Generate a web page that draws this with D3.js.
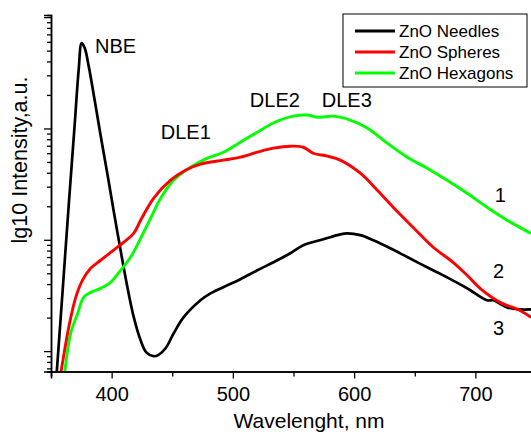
<!DOCTYPE html>
<html>
<head>
<meta charset="utf-8">
<script src="https://cdn.jsdelivr.net/npm/d3@7"></script>
<style>
  body { margin: 0; background: #fff; }
  svg { display: block; font-family: "Liberation Sans", Arial, sans-serif; }
</style>
</head>
<body>
<svg width="531" height="435"></svg>
<script>
// wavelength (nm) and intensity (a.u., log axis)
const needlesNm = [354.7, 359.6, 364.6, 369.5, 372.8, 375.3, 377.8, 381.1, 386, 390.9, 396.7, 401.6, 407.4, 412.4, 418.1, 423.9, 428.8, 434.6, 438.7, 444.5, 451.1, 459.3, 473.3, 481.5, 495.5, 506.2, 520.2, 533.4, 547.4, 558.1, 574.6, 588.6, 594.3, 605.1, 615.8, 629.8, 643.8, 660.2, 676.7, 693.2, 709.6, 714.6, 726.1, 736.8, 745.9];
const needlesI = [0.64, 3.5, 20.4, 107, 334, 585, 527, 363, 180, 87, 38, 18.4, 8.05, 4.06, 2.05, 1.25, 0.97, 0.9, 0.925, 1.06, 1.44, 2.01, 2.86, 3.3, 3.9, 4.42, 5.32, 6.28, 7.57, 8.93, 10.1, 11.2, 11.4, 11.0, 9.9, 8.4, 7.0, 5.66, 4.6, 3.67, 2.86, 2.86, 2.47, 2.37, 2.37];

const spheresNm = [358, 359.4, 364.6, 370.4, 375.9, 382.7, 390.9, 404.7, 418.1, 423.9, 434.6, 448.6, 460.9, 473.3, 492.2, 506.2, 520.2, 533.4, 547.4, 558.1, 566.3, 577.9, 588.6, 605.1, 619.1, 632.2, 648.7, 665.2, 681.6, 693.2, 703.9, 720.3, 736.8, 745.9];
const spheresI = [0.62, 0.775, 1.63, 3.04, 4.32, 5.54, 6.55, 8.57, 11.4, 15.0, 23.6, 34.3, 42.2, 47.8, 51.9, 55.2, 61.2, 66.5, 69.3, 67.8, 59.9, 56.4, 51.9, 39.6, 27.9, 19.6, 12.9, 8.57, 6.28, 4.8, 3.66, 2.74, 2.32, 2.01];

const hexagonsNm = [361.3, 366.2, 372, 376.9, 382.7, 390.9, 399.2, 407.4, 415.6, 423.9, 432.1, 440.4, 451.1, 465, 479.1, 492.2, 506.2, 520.2, 533.4, 549.9, 561.4, 569.6, 582.8, 596.8, 610.8, 627.3, 643.8, 660.2, 676.7, 693.2, 709.6, 726.1, 745.9];
const hexagonsI = [0.64, 1.44, 2.18, 3.04, 3.37, 3.66, 4.15, 5.32, 6.96, 10.3, 15.6, 23.6, 34.3, 44.9, 54.1, 61.2, 75.3, 92.6, 112, 129, 132, 126, 129, 119, 101, 73.8, 55.2, 44.0, 34.3, 26.2, 19.6, 15.0, 11.4];

const seriesNames = ['ZnO Needles', 'ZnO Spheres', 'ZnO Hexagons'];
const seriesColors = ['#000000', '#ff0000', '#00ff00'];

const xTicks = [400, 500, 600, 700];
const xMinorTicks = [350, 450, 550, 650];

// peak labels: [text, wavelength, intensity]
const peakLabels = [['NBE', 386.3, 475], ['DLE1', 440.5, 80], ['DLE2', 514, 156], ['DLE3', 573.3, 156]];
// curve numbers: [text, wavelength, intensity]
const curveNumbers = [['1', 716, 22], ['2', 714.5, 4.54], ['3', 714.5, 1.4]];

const svg = d3.select('svg');

const margin = { top: 15, left: 51, bottom: 371.5 };

const xScale = d3.scaleLinear()
    .domain([350, 750])
    .range([margin.left, 536]);

const yScale = d3.scaleLog()
    .domain([0.656, 1045])
    .range([margin.bottom, margin.top]);

svg.append('clipPath').attr('id', 'plot-clip')
  .append('rect')
    .attr('x', margin.left)
    .attr('y', margin.top)
    .attr('width', 531 - margin.left)
    .attr('height', margin.bottom - margin.top);

let line = d3.line()
    .x(d => xScale(d[0]))
    .y(d => yScale(d[1]))
    .curve(d3.curveCatmullRom.alpha(0.5));

let drawSeries = (nm, vals, color, width) => {
  svg.append('path')
      .datum(d3.zip(nm, vals))
      .attr('clip-path', 'url(#plot-clip)')
      .attr('fill', 'none')
      .attr('stroke', color)
      .attr('stroke-width', width)
      .attr('stroke-linejoin', 'round')
      .attr('d', line);
}

drawSeries(needlesNm, needlesI, seriesColors[0], 2.7);
drawSeries(hexagonsNm, hexagonsI, seriesColors[2], 2.9);
drawSeries(spheresNm, spheresI, seriesColors[1], 2.9);

// axes
let xAxis = d3.axisBottom(xScale)
    .tickValues(xTicks)
    .tickSize(7)
    .tickPadding(8)
    .tickFormat(d3.format('d'));

let xMinor = d3.axisBottom(xScale)
    .tickValues(xMinorTicks)
    .tickSize(5)
    .tickFormat('');

let gx = svg.append('g')
    .attr('transform', 'translate(0,' + margin.bottom + ')')
    .call(xAxis);
svg.append('g')
    .attr('transform', 'translate(0,' + margin.bottom + ')')
    .call(xMinor);

gx.selectAll('text')
    .attr('font-size', 20)
    .attr('font-family', '"Liberation Sans", Arial, sans-serif')
    .attr('fill', '#000');

let yAll = yScale.ticks();
let yMajor = yAll.filter(v => Math.abs(Math.log10(v) - Math.round(Math.log10(v))) < 1e-6);
let yMinor = yAll.filter(v => yMajor.indexOf(v) < 0);

let yAxis = d3.axisLeft(yScale).tickValues(yMajor).tickSize(7).tickFormat('');
let yAxisMinor = d3.axisLeft(yScale).tickValues(yMinor).tickSize(4).tickFormat('');

svg.append('g')
    .attr('transform', 'translate(' + margin.left + ',0)')
    .call(yAxis);
svg.append('g')
    .attr('transform', 'translate(' + margin.left + ',0)')
    .call(yAxisMinor);

svg.selectAll('.domain').attr('stroke-width', 1.5);
svg.selectAll('.tick line').attr('stroke-width', 1.3);

// axis titles
svg.append('text')
    .attr('x', 309)
    .attr('y', 428)
    .attr('text-anchor', 'middle')
    .attr('font-size', 21)
    .text('Wavelenght, nm');

svg.append('text')
    .attr('transform', 'translate(27,160) rotate(-90)')
    .attr('text-anchor', 'middle')
    .attr('font-size', 21.5)
    .text('lg10 Intensity,a.u.');

// peak labels and curve numbers
svg.selectAll('.peak').data(peakLabels)
  .enter()
  .append('text')
    .attr('class', 'peak')
    .attr('x', d => xScale(d[1]))
    .attr('y', d => yScale(d[2]))
    .attr('font-size', 20)
    .text(d => d[0]);

svg.selectAll('.num').data(curveNumbers)
  .enter()
  .append('text')
    .attr('class', 'num')
    .attr('x', d => xScale(d[1]))
    .attr('y', d => yScale(d[2]))
    .attr('font-size', 20)
    .text(d => d[0]);

// legend
let legend = svg.append('g').attr('transform', 'translate(343,14)');

legend.append('rect')
    .attr('width', 184)
    .attr('height', 73)
    .attr('fill', '#fff')
    .attr('stroke', '#000')
    .attr('stroke-width', 1);

seriesNames.forEach((name, i) => {
  let yy = 17 + i * 21;
  legend.append('line')
      .attr('x1', 12).attr('x2', 52)
      .attr('y1', yy).attr('y2', yy)
      .attr('stroke', seriesColors[i])
      .attr('stroke-width', 3);
  legend.append('text')
      .attr('x', 56)
      .attr('y', yy + 6)
      .attr('font-size', 17)
      .text(name);
});
</script>
</body>
</html>
